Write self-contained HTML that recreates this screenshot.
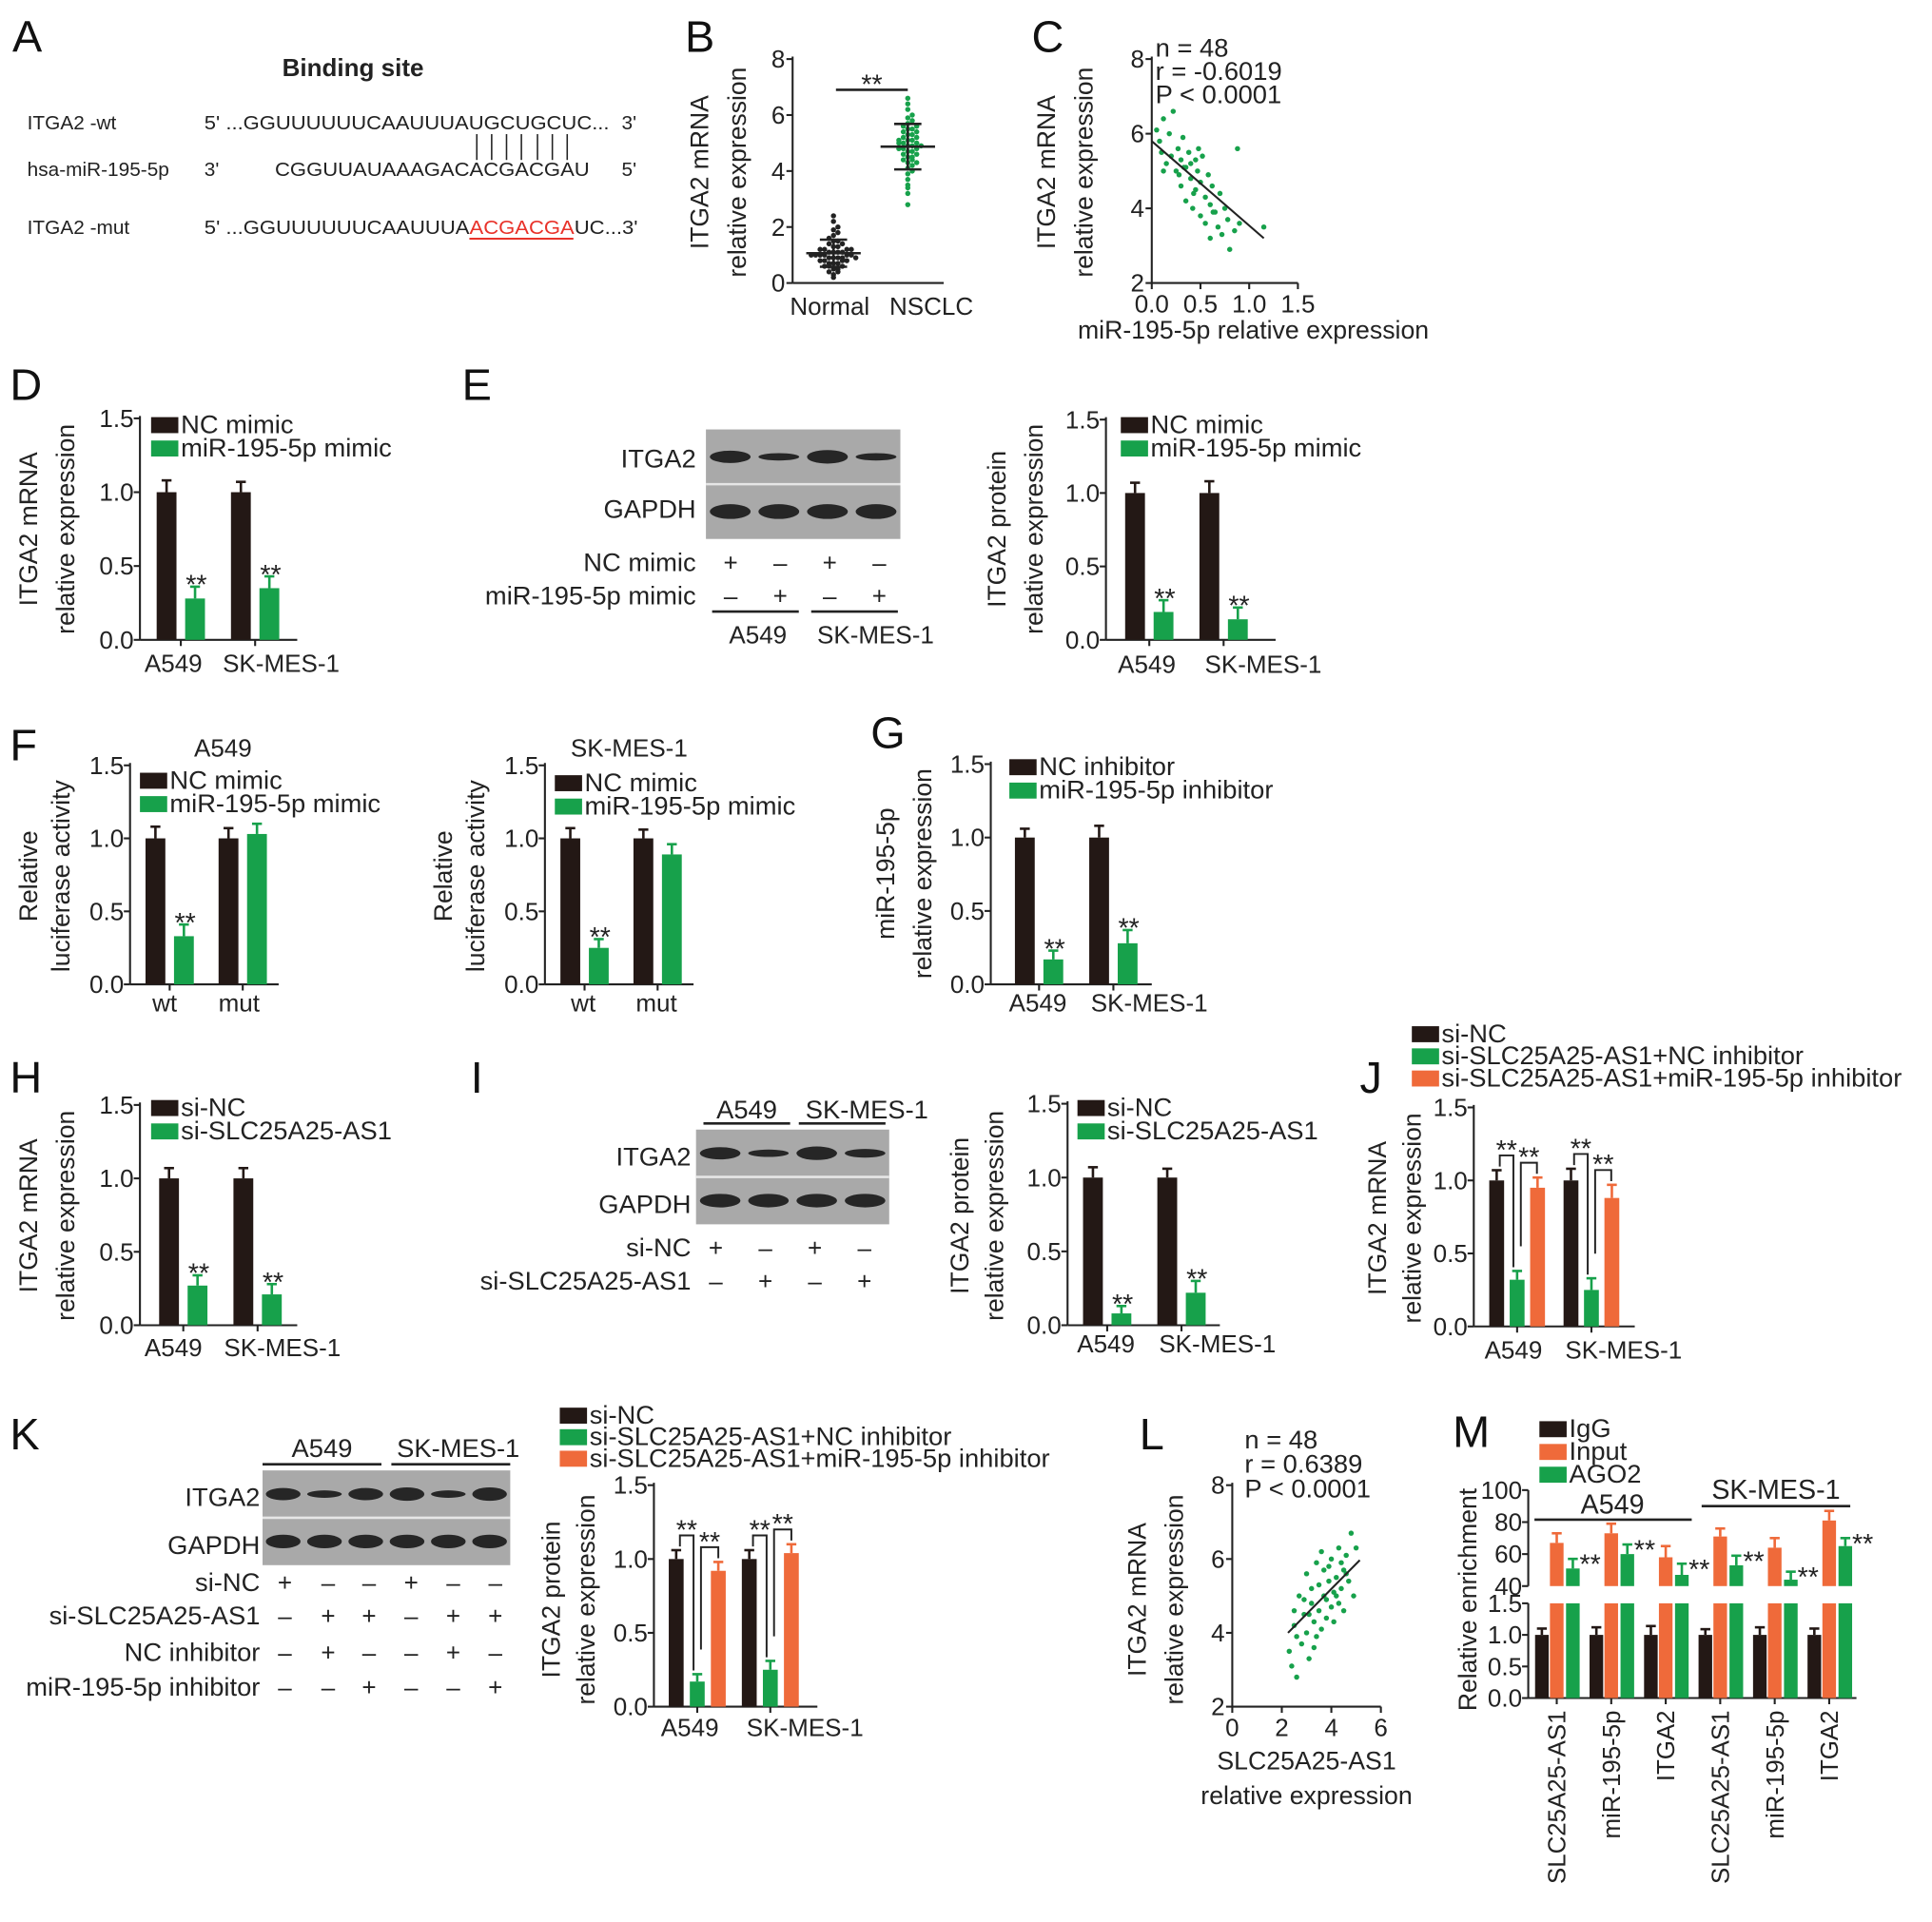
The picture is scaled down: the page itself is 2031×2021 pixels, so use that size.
<!DOCTYPE html>
<html><head><meta charset="utf-8"><title>ITGA2 figure</title>
<style>
html,body{margin:0;padding:0;background:#fff;}
svg{display:block;font-family:"Liberation Sans",Arial,sans-serif;}
</style></head>
<body>
<svg id="fig" xmlns="http://www.w3.org/2000/svg" width="2031" height="2021" viewBox="0 0 1560 1562" preserveAspectRatio="none"></svg>
<script>
// ---------- data ----------
const bNormal = [0.3,0.4,0.5,0.5,0.6,0.6,0.7,0.7,0.7,0.8,0.8,0.8,0.8,0.9,0.9,0.9,0.9,1.0,1.0,1.0,1.0,1.0,1.1,1.1,1.1,1.1,1.2,1.2,1.2,1.3,1.3,1.4,1.4,1.5,1.5,1.6,1.7,1.8,1.9,2.0,2.2,2.4,0.2,0.6,0.9,1.0,1.2,0.4];
const bNSCLC = [2.8,3.2,3.5,3.7,3.9,4.0,4.1,4.2,4.3,4.4,4.4,4.5,4.5,4.6,4.6,4.7,4.7,4.8,4.8,4.8,4.9,4.9,5.0,5.0,5.0,5.1,5.1,5.2,5.2,5.3,5.3,5.4,5.4,5.5,5.5,5.6,5.7,5.8,5.9,6.0,6.2,6.4,6.6,4.3,5.1,4.9,5.6,3.4];
const cX = [0.05,0.08,0.1,0.12,0.15,0.18,0.2,0.22,0.25,0.27,0.3,0.3,0.32,0.35,0.35,0.38,0.4,0.4,0.42,0.45,0.45,0.47,0.5,0.5,0.52,0.55,0.55,0.58,0.6,0.6,0.62,0.65,0.68,0.7,0.72,0.75,0.78,0.8,0.85,0.88,0.12,0.28,0.43,0.48,0.63,0.9,0.33,1.15];
const cY = [6.1,5.8,5.5,6.4,5.2,6.0,5.4,6.6,5.0,5.6,5.3,4.6,5.9,5.1,4.2,5.5,4.8,5.2,4.0,5.3,4.5,5.0,4.7,3.8,5.4,4.3,3.6,4.9,4.1,3.2,4.6,3.9,3.5,4.4,3.3,4.0,3.7,2.9,3.4,5.6,5.0,4.9,4.4,5.6,3.9,3.6,5.1,3.5];
const cFit = [[0,5.8],[1.15,3.2]];
const lX = [2.3,2.4,2.5,2.6,2.7,2.8,2.9,3.0,3.0,3.1,3.2,3.2,3.3,3.4,3.4,3.5,3.5,3.6,3.7,3.7,3.8,3.8,3.9,4.0,4.0,4.1,4.1,4.2,4.3,4.3,4.4,4.5,4.5,4.6,4.7,4.8,4.9,5.0,2.6,2.9,3.3,3.6,3.9,4.2,4.6,2.5,3.1,4.4];
const lY = [3.5,3.1,4.2,2.8,5.0,3.7,4.5,4.0,5.6,3.3,4.8,5.2,4.3,5.9,3.9,4.6,5.3,4.1,5.0,5.7,4.4,4.9,5.4,4.7,6.0,5.1,4.3,5.5,4.8,6.3,5.2,5.7,4.6,6.1,5.4,6.7,5.0,6.3,3.9,4.9,3.6,6.2,5.8,5.0,5.6,4.6,4.5,5.9];
const lFit = [[2.25,4.0],[5.15,5.97]];

const twoCats = ['A549','SK-MES-1'];
const lucCats = ['wt','mut'];
const barTicks = [0,0.5,1.0,1.5];
const barTickLabels = ['0.0','0.5','1.0','1.5'];

const dNC = [1.0,1.0], dMim = [0.28,0.35], dNCe=[0.08,0.07], dMime=[0.08,0.08];
const eNC = [1.0,1.0], eMim = [0.19,0.14], eNCe=[0.07,0.08], eMime=[0.08,0.08];
const fAnc = [1.0,1.0], fAmim = [0.33,1.03], fAnce=[0.08,0.07], fAmime=[0.08,0.07];
const fSnc = [1.0,1.0], fSmim = [0.25,0.89], fSnce=[0.07,0.06], fSmime=[0.06,0.07];
const gNC = [1.0,1.0], gInh = [0.17,0.28], gNCe=[0.06,0.08], gInhe=[0.06,0.09];
const hNC = [1.0,1.0], hSi = [0.27,0.21], hNCe=[0.07,0.07], hSie=[0.07,0.07];
const iNC = [1.0,1.0], iSi = [0.08,0.22], iNCe=[0.07,0.06], iSie=[0.05,0.08];
const jNC = [1.0,1.0], jSiNC = [0.32,0.25], jSiInh = [0.95,0.88], jNCe=[0.07,0.08], jSiNCe=[0.06,0.08], jSiInhe=[0.07,0.09];
const kNC = [1.0,1.0], kSiNC = [0.17,0.25], kSiInh = [0.92,1.04], kNCe=[0.06,0.06], kSiNCe=[0.05,0.06], kSiInhe=[0.06,0.06];
const mCats = ['SLC25A25-AS1','miR-195-5p','ITGA2','SLC25A25-AS1','miR-195-5p','ITGA2'];
const mIgG = [1.0,1.0,1.0,1.0,1.0,1.0];
const mIgGe = [0.1,0.12,0.14,0.09,0.12,0.1];
const mInput = [67,73,58,71,64,81];
const mInpute = [6,6,7,5,6,6];
const mAGO2 = [51,60,47,53,44,65];
const mAGO2e = [6,6,7,6,5,5];
const mUpperTicks = [40,60,80,100];
const mLowerTicks = [0,0.5,1.0,1.5];
const mLowerTickLabels = ['0.0','0.5','1.0','1.5'];

// ---------- helpers ----------
const NS='http://www.w3.org/2000/svg';
const svg=document.getElementById('fig');
const K='#231815', G='#17a14b', O='#ef6a3a';
const FT=20, FL=21, FA=20.5;
function mk(tag, attrs, name){
  const e=document.createElementNS(NS,tag);
  for(const k in attrs) e.setAttribute(k, attrs[k]);
  
  
  svg.appendChild(e);
  return e;
}
function txt(x,y,s,size,anchor,name,extra){
  const a={x:x,y:y,'font-size':size,'text-anchor':anchor||'start',fill:'#222'};
  if(extra) for(const k in extra) a[k]=extra[k];
  const t=mk('text',a,name);
  t.textContent=s;
  return t;
}
function line(x1,y1,x2,y2,name,color,w){
  return mk('line',{x1:x1,y1:y1,x2:x2,y2:y2,stroke:color||'#222','stroke-width':w||1.6},name);
}
function rotLabel(lines, xs, cy, name){
  lines.forEach((s,i)=>{
    txt(xs[i], cy, s, FA, 'middle', name, {transform:'rotate(-90 '+xs[i]+' '+cy+')'});
  });
}
function legend(x,y,items,colors,step,name){
  items.forEach((s,i)=>{
    mk('rect',{x:x,y:y+i*step-6,width:22,height:13,fill:colors[i]},name+'-swatch');
    txt(x+24,y+i*step+7,s,FL,'start',name+'-entry');
  });
}
function panelLetter(s,x,y){ txt(x,y,s,36,'start','panel-label-'+s.toLowerCase(),{fill:'#111'}); }

function barChart(c){
  const sy=v=>c.y0-(v/c.max)*(c.y0-c.yTop);
  line(c.ax,c.yTop-2,c.ax,c.y0,c.name+'-y-axis');
  line(c.ax,c.y0,c.xEnd,c.y0,c.name+'-x-axis');
  barTicks.forEach((v,i)=>{
    line(c.ax-5,sy(v),c.ax,sy(v),c.name+'-y-tick');
    txt(c.ax-5,sy(v)+7,barTickLabels[i],FT,'end',c.name+'-y-tick-label');
  });
  const n=c.series.length;
  c.centers.forEach((cx,g)=>{
    line(cx,c.y0,cx,c.y0+5,c.name+'-x-tick');
    txt(c.catX[g],c.catY,c.cats[g],FT,'middle',c.name+'-x-tick-label');
    c.series.forEach((arr,s)=>{
      const bx=cx+(s-(n-1)/2)*c.off;
      const v=arr[g], e=c.errs[s][g];
      mk('rect',{x:bx-c.bw/2,y:sy(v),width:c.bw,height:c.y0-sy(v),fill:c.colors[s]},c.name+'-bar');
      line(bx,sy(v),bx,sy(v+e),c.name+'-error-bar',c.colors[s],2);
      line(bx-4,sy(v+e),bx+4,sy(v+e),c.name+'-error-cap',c.colors[s],2);
      if(c.sig && c.sig[s] && c.sig[s][g]) txt(bx+1,sy(v+e)+6,'**',22,'middle',c.name+'-significance');
    });
  });
  rotLabel(c.ylab,c.ylabX,c.ylabY,c.name+'-y-axis-title');
  legend(c.legX,c.legY,c.legItems,c.colors,c.legStep||19,c.name+'-legend');
  return sy;
}
function bracket(x1,top1,x2,top2,level,name){
  mk('path',{d:'M'+x1+' '+top1+' L'+x1+' '+level+' L'+x2+' '+level+' L'+x2+' '+top2,fill:'none',stroke:'#222','stroke-width':1.5},name);
  txt((x1+x2)/2,level+3,'**',22,'middle',name+'-label');
}

// ---------- Panel A ----------
panelLetter('A',10,42);
txt(285,62,'Binding site',20,'middle','binding-site-title',{'font-weight':'bold'});
txt(22,105,'ITGA2 -wt',16,'start','wt-label');
txt(165,105,"5' ...GGUUUUUUCAAUUUAUGCUGCUC...",16,'start','wt-sequence',{textLength:327,lengthAdjust:'spacingAndGlyphs'});
txt(502,105,"3'",16,'start','wt-3prime');
txt(22,143,'hsa-miR-195-5p',16,'start','mirna-label');
txt(165,143,"3'",16,'start','mirna-3prime');
txt(222,143,'CGGUUAUAAAGACACGACGAU',16,'start','mirna-sequence',{textLength:254,lengthAdjust:'spacingAndGlyphs'});
txt(502,143,"5'",16,'start','mirna-5prime');
[385,397,409,421,434,446,458].forEach(x=>line(x,109,x,130,'base-pair-line','#222',1.2));
txt(22,190,'ITGA2 -mut',16,'start','mut-label');
(function(){
  const t=txt(165,190,'',16,'start','mut-sequence',{textLength:350,lengthAdjust:'spacingAndGlyphs'});
  const a=document.createElementNS(NS,'tspan'); a.textContent="5' ...GGUUUUUUCAAUUUA"; t.appendChild(a);
  const b=document.createElementNS(NS,'tspan'); b.textContent='ACGACGA'; b.setAttribute('fill','#e8322a'); t.appendChild(b);
  const c=document.createElementNS(NS,'tspan'); c.textContent="UC...3'"; t.appendChild(c);
})();
line(379,194,463,194,'mutation-underline','#e8322a',1.5);

// ---------- Panel B ----------
panelLetter('B',553,42);
(function(){
  const ax=640,y0=230,yT=48;
  const sy=v=>y0-v/8*(y0-yT);
  line(ax,yT-2,ax,y0,'b-y-axis'); line(ax,y0,762,y0,'b-x-axis');
  [0,2,4,6,8].forEach(v=>{line(ax-5,sy(v),ax,sy(v),'b-y-tick');txt(ax-6,sy(v)+7,String(v),FT,'end','b-y-tick-label');});
  rotLabel(['ITGA2 mRNA','relative expression'],[572,602],140,'b-y-axis-title');
  txt(670,256,'Normal',FT,'middle','b-x-label-normal');
  txt(752,256,'NSCLC',FT,'middle','b-x-label-nsclc');
  line(675,73,733,73,'b-significance-line','#222',2);
  txt(704,76,'**',22,'middle','b-significance');
  function swarm(vals,cx,color,name){
    const bins={};
    vals.forEach(v=>{
      const k=Math.round(v*5);
      bins[k]=(bins[k]||0)+1;
      const i=bins[k]-1;
      const off=(i%2?1:-1)*Math.ceil(i/2)*3.6;
      mk('circle',{cx:cx+off,cy:sy(v),r:2.1,fill:color},name);
    });
    const m=vals.reduce((a,b)=>a+b,0)/vals.length;
    const sd=Math.sqrt(vals.reduce((a,b)=>a+(b-m)*(b-m),0)/(vals.length-1));
    line(cx-22,sy(m),cx+22,sy(m),name+'-mean','#222',2);
    line(cx,sy(m-sd),cx,sy(m+sd),name+'-sd','#222',2);
    line(cx-11,sy(m-sd),cx+11,sy(m-sd),name+'-sd-cap','#222',2);
    line(cx-11,sy(m+sd),cx+11,sy(m+sd),name+'-sd-cap','#222',2);
  }
  swarm(bNormal,673,'#222','b-normal-point');
  swarm(bNSCLC,733,G,'b-nsclc-point');
})();

// ---------- Panel C ----------
panelLetter('C',833,42);
(function(){
  const ax=930,y0=230,yT=48,xR=1048;
  const sy=v=>y0-(v-2)/6*(y0-yT);
  const sx=v=>ax+v/1.5*(xR-ax);
  line(ax,yT-2,ax,y0,'c-y-axis'); line(ax,y0,xR,y0,'c-x-axis');
  [2,4,6,8].forEach(v=>{line(ax-5,sy(v),ax,sy(v),'c-y-tick');txt(ax-6,sy(v)+7,String(v),FT,'end','c-y-tick-label');});
  [0,0.5,1.0,1.5].forEach(v=>{line(sx(v),y0,sx(v),y0+5,'c-x-tick');txt(sx(v),y0+24,v.toFixed(1),FT,'middle','c-x-tick-label');});
  rotLabel(['ITGA2 mRNA','relative expression'],[852,882],140,'c-y-axis-title');
  txt(1012,275,'miR-195-5p relative expression',FA,'middle','c-x-axis-title');
  txt(933,46,'n = 48',FL,'start','c-stat-n');
  txt(933,65,'r = -0.6019',FL,'start','c-stat-r');
  txt(933,84,'P < 0.0001',FL,'start','c-stat-p');
  cX.forEach((x,i)=>mk('circle',{cx:sx(x),cy:sy(cY[i]),r:2.1,fill:G},'c-point'));
  line(sx(cFit[0][0]),sy(cFit[0][1]),sx(cFit[1][0]),sy(cFit[1][1]),'c-regression-line','#222',1.6);
})();

// ---------- Panel D ----------
panelLetter('D',8,325);
barChart({name:'d',ax:113,y0:520,yTop:340,max:1.5,xEnd:240,centers:[146,206],bw:16,off:23,
  series:[dNC,dMim],errs:[dNCe,dMime],colors:[K,G],sig:[null,[1,1]],cats:twoCats,catX:[140,227],catY:546,
  ylab:['ITGA2 mRNA','relative expression'],ylabX:[30,60],ylabY:430,legX:122,legY:345,legItems:['NC mimic','miR-195-5p mimic']});

// ---------- Panel E ----------
panelLetter('E',373,325);
function blot(x,y,w,h,rows,bands,name){
  mk('rect',{x:x,y:y,width:w,height:h,fill:'#a9a9a9'},name+'-background');
  const rh=h/rows.length;
  rows.forEach((r,ri)=>{
    if(ri>0) line(x,y+ri*rh,x+w,y+ri*rh,name+'-divider','#e6e6e6',2);
    bands[ri].forEach((b,bi)=>{
      const lw=w/bands[ri].length;
      mk('ellipse',{cx:x+lw*(bi+0.5),cy:y+rh*(ri+0.5),rx:lw*0.42,ry:b,fill:'#262626'},name+'-band');
    });
  });
}
blot(570,349,157,89,['ITGA2','GAPDH'],[[5,3,5.5,3],[6,6,6,6]],'e-blot');
txt(562,380,'ITGA2',21,'end','e-blot-label-itga2');
txt(562,421,'GAPDH',21,'end','e-blot-label-gapdh');
txt(562,464,'NC mimic',21,'end','e-row-nc-mimic');
txt(562,491,'miR-195-5p mimic',21,'end','e-row-mir-mimic');
['+','–','+','–'].forEach((s,i)=>txt(590+i*40,464,s,20,'middle','e-sign'));
['–','+','–','+'].forEach((s,i)=>txt(590+i*40,491,s,20,'middle','e-sign'));
line(575,497,645,497,'e-group-line','#222',2); line(655,497,725,497,'e-group-line','#222',2);
txt(612,523,'A549',FT,'middle','e-group-a549'); txt(707,523,'SK-MES-1',FT,'middle','e-group-skmes1');
barChart({name:'e',ax:893,y0:520,yTop:341,max:1.5,xEnd:1030,centers:[928,988],bw:16,off:23,
  series:[eNC,eMim],errs:[eNCe,eMime],colors:[K,G],sig:[null,[1,1]],cats:twoCats,catX:[926,1020],catY:547,
  ylab:['ITGA2 protein','relative expression'],ylabX:[812,842],ylabY:430,legX:905,legY:345,legItems:['NC mimic','miR-195-5p mimic']});

// ---------- Panel F ----------
panelLetter('F',8,618);
txt(180,615,'A549',FT,'middle','f-title-a549');
barChart({name:'f-a549',ax:105,y0:800,yTop:622,max:1.5,xEnd:225,centers:[137,196],bw:16,off:23,
  series:[fAnc,fAmim],errs:[fAnce,fAmime],colors:[K,G],sig:[null,[1,0]],cats:lucCats,catX:[133,193],catY:822,
  ylab:['Relative','luciferase activity'],ylabX:[30,56],ylabY:712,legX:113,legY:634,legItems:['NC mimic','miR-195-5p mimic']});
txt(508,615,'SK-MES-1',FT,'middle','f-title-skmes1');
barChart({name:'f-skmes1',ax:440,y0:800,yTop:622,max:1.5,xEnd:560,centers:[472,531],bw:16,off:23,
  series:[fSnc,fSmim],errs:[fSnce,fSmime],colors:[K,G],sig:[null,[1,0]],cats:lucCats,catX:[471,530],catY:822,
  ylab:['Relative','luciferase activity'],ylabX:[365,391],ylabY:712,legX:448,legY:636,legItems:['NC mimic','miR-195-5p mimic']});

// ---------- Panel G ----------
panelLetter('G',703,608);
barChart({name:'g',ax:800,y0:800,yTop:621,max:1.5,xEnd:930,centers:[839,899],bw:16,off:23,
  series:[gNC,gInh],errs:[gNCe,gInhe],colors:[K,G],sig:[null,[1,1]],cats:twoCats,catX:[838,928],catY:822,
  ylab:['miR-195-5p','relative expression'],ylabX:[722,752],ylabY:710,legX:815,legY:623,legItems:['NC inhibitor','miR-195-5p inhibitor']});

// ---------- Panel H ----------
panelLetter('H',8,888);
barChart({name:'h',ax:113,y0:1077,yTop:898,max:1.5,xEnd:240,centers:[148,208],bw:16,off:23,
  series:[hNC,hSi],errs:[hNCe,hSie],colors:[K,G],sig:[null,[1,1]],cats:twoCats,catX:[140,228],catY:1102,
  ylab:['ITGA2 mRNA','relative expression'],ylabX:[30,60],ylabY:988,legX:122,legY:900,legItems:['si-NC','si-SLC25A25-AS1']});

// ---------- Panel I ----------
panelLetter('I',380,888);
txt(603,909,'A549',21,'middle','i-group-a549'); txt(700,909,'SK-MES-1',21,'middle','i-group-skmes1');
line(568,913,638,913,'i-group-line','#222',2); line(645,913,715,913,'i-group-line','#222',2);
blot(562,918,156,77,['ITGA2','GAPDH'],[[5,3,5.5,3.5],[5.5,5.5,5.5,5.5]],'i-blot');
txt(558,947,'ITGA2',21,'end','i-blot-label-itga2');
txt(558,986,'GAPDH',21,'end','i-blot-label-gapdh');
txt(558,1021,'si-NC',21,'end','i-row-sinc');
txt(558,1048,'si-SLC25A25-AS1',21,'end','i-row-sislc');
['+','–','+','–'].forEach((s,i)=>txt(578+i*40,1021,s,20,'middle','i-sign'));
['–','+','–','+'].forEach((s,i)=>txt(578+i*40,1048,s,20,'middle','i-sign'));
barChart({name:'i',ax:862,y0:1077,yTop:897,max:1.5,xEnd:985,centers:[894,954],bw:16,off:23,
  series:[iNC,iSi],errs:[iNCe,iSie],colors:[K,G],sig:[null,[1,1]],cats:twoCats,catX:[893,983],catY:1099,
  ylab:['ITGA2 protein','relative expression'],ylabX:[782,810],ylabY:988,legX:870,legY:900,legItems:['si-NC','si-SLC25A25-AS1']});

// ---------- Panel J ----------
panelLetter('J',1098,888);
(function(){
  const sy=barChart({name:'j',ax:1190,y0:1078,yTop:900,max:1.5,xEnd:1320,centers:[1225,1285],bw:12,off:16.5,
    series:[jNC,jSiNC,jSiInh],errs:[jNCe,jSiNCe,jSiInhe],colors:[K,G,O],sig:null,cats:twoCats,catX:[1222,1311],catY:1104,
    ylab:['ITGA2 mRNA','relative expression'],ylabX:[1119,1147],ylabY:990,legX:1140,legY:840,legStep:18,
    legItems:['si-NC','si-SLC25A25-AS1+NC inhibitor','si-SLC25A25-AS1+miR-195-5p inhibitor']});
  [0,1].forEach(g=>{
    const cx=[1225,1285][g];
    bracket(cx-14,sy(jNC[g]+jNCe[g])-3,cx-3,sy(jSiNC[g]+jSiNCe[g])-3,sy(jNC[g]+jNCe[g])-12,'j-bracket-1');
    bracket(cx+3,sy(jSiNC[g]+jSiNCe[g])-20,cx+16,sy(jSiInh[g]+jSiInhe[g])-3,sy(jSiInh[g]+jSiInhe[g])-12,'j-bracket-2');
  });
})();

// ---------- Panel K ----------
panelLetter('K',8,1178);
txt(260,1184,'A549',21,'middle','k-group-a549'); txt(370,1184,'SK-MES-1',21,'middle','k-group-skmes1');
line(212,1190,308,1190,'k-group-line','#222',2); line(316,1190,412,1190,'k-group-line','#222',2);
blot(212,1195,200,77,['ITGA2','GAPDH'],[[5,3,5,5.5,3,5.5],[5.5,5.5,5.5,5.5,5.5,5.5]],'k-blot');
txt(210,1224,'ITGA2',21,'end','k-blot-label-itga2');
txt(210,1263,'GAPDH',21,'end','k-blot-label-gapdh');
(function(){
  const rows=['si-NC','si-SLC25A25-AS1','NC inhibitor','miR-195-5p inhibitor'];
  const signs=[['+','–','–','+','–','–'],['–','+','+','–','+','+'],['–','+','–','–','+','–'],['–','–','+','–','–','+']];
  const ys=[1293,1320,1350,1378];
  const xs=[230,265,298,332,366,400];
  rows.forEach((r,i)=>{
    txt(210,ys[i],r,21,'end','k-row-label');
    signs[i].forEach((s,j)=>txt(xs[j],ys[i],s,20,'middle','k-sign'));
  });
})();
(function(){
  const sy=barChart({name:'k',ax:528,y0:1387,yTop:1207,max:1.5,xEnd:660,centers:[563,622],bw:12,off:17,
    series:[kNC,kSiNC,kSiInh],errs:[kNCe,kSiNCe,kSiInhe],colors:[K,G,O],sig:null,cats:twoCats,catX:[557,650],catY:1411,
    ylab:['ITGA2 protein','relative expression'],ylabX:[452,480],ylabY:1300,legX:452,legY:1150,legStep:17.5,
    legItems:['si-NC','si-SLC25A25-AS1+NC inhibitor','si-SLC25A25-AS1+miR-195-5p inhibitor']});
  [0,1].forEach(g=>{
    const cx=[563,622][g];
    bracket(cx-14,sy(kNC[g]+kNCe[g])-3,cx-3,sy(kSiNC[g]+kSiNCe[g])-3,sy(kNC[g]+kNCe[g])-12,'k-bracket-1');
    bracket(cx+3,sy(kSiNC[g]+kSiNCe[g])-20,cx+17,sy(kSiInh[g]+kSiInhe[g])-3,sy(kSiInh[g]+kSiInhe[g])-12,'k-bracket-2');
  });
})();

// ---------- Panel L ----------
panelLetter('L',920,1178);
(function(){
  const ax=995,y0=1387,yT=1207,xR=1115;
  const sy=v=>y0-(v-2)/6*(y0-yT);
  const sx=v=>ax+v/6*(xR-ax);
  line(ax,yT-2,ax,y0,'l-y-axis'); line(ax,y0,xR,y0,'l-x-axis');
  [2,4,6,8].forEach(v=>{line(ax-5,sy(v),ax,sy(v),'l-y-tick');txt(ax-6,sy(v)+7,String(v),FT,'end','l-y-tick-label');});
  [0,2,4,6].forEach(v=>{line(sx(v),y0,sx(v),y0+5,'l-x-tick');txt(sx(v),y0+24,String(v),FT,'middle','l-x-tick-label');});
  rotLabel(['ITGA2 mRNA','relative expression'],[925,955],1300,'l-y-axis-title');
  txt(1055,1438,'SLC25A25-AS1',FA,'middle','l-x-axis-title');
  txt(1055,1466,'relative expression',FA,'middle','l-x-axis-title');
  txt(1005,1177,'n = 48',FL,'start','l-stat-n');
  txt(1005,1197,'r = 0.6389',FL,'start','l-stat-r');
  txt(1005,1217,'P < 0.0001',FL,'start','l-stat-p');
  lX.forEach((x,i)=>mk('circle',{cx:sx(x),cy:sy(lY[i]),r:2.1,fill:G},'l-point'));
  line(sx(lFit[0][0]),sy(lFit[0][1]),sx(lFit[1][0]),sy(lFit[1][1]),'l-regression-line','#222',1.6);
})();

// ---------- Panel M ----------
panelLetter('M',1173,1176);
(function(){
  const ax=1234, y0=1380, yL15=1303, yU40=1289, yU100=1211, xEnd=1499;
  const syL=v=>y0-v/1.5*(y0-yL15);
  const syU=v=>yU40-(v-40)/60*(yU40-yU100);
  line(ax,yL15,ax,y0,'m-y-axis-lower'); line(ax,yU100,ax,yU40,'m-y-axis-upper');
  line(ax,y0,xEnd,y0,'m-x-axis');
  mLowerTicks.forEach((v,i)=>{line(ax-5,syL(v),ax,syL(v),'m-y-tick');txt(ax-5,syL(v)+7,mLowerTickLabels[i],FT,'end','m-y-tick-label');});
  mUpperTicks.forEach(v=>{line(ax-5,syU(v),ax,syU(v),'m-y-tick');txt(ax-5,syU(v)+7,String(v),FT,'end','m-y-tick-label');});
  rotLabel(['Relative enrichment'],[1192],1300,'m-y-axis-title');
  legend(1243,1161,['IgG','Input','AGO2'],[K,O,G],18.5,'m-legend');
  txt(1302,1230,'A549',22,'middle','m-group-a549'); line(1239,1235,1366,1235,'m-group-line','#222',2);
  txt(1434,1218,'SK-MES-1',22,'middle','m-group-skmes1'); line(1374,1224,1494,1224,'m-group-line','#222',2);
  const bw=11;
  mCats.forEach((c,g)=>{
    const bx=1245+g*44;
    mk('rect',{x:bx-bw/2,y:syL(mIgG[g]),width:bw,height:y0-syL(mIgG[g]),fill:K},'m-bar-igg');
    line(bx,syL(mIgG[g]),bx,syL(mIgG[g]+mIgGe[g]),'m-error-bar',K,2);
    line(bx-4,syL(mIgG[g]+mIgGe[g]),bx+4,syL(mIgG[g]+mIgGe[g]),'m-error-cap',K,2);
    [[mInput,mInpute,O,12,'m-bar-input'],[mAGO2,mAGO2e,G,25,'m-bar-ago2']].forEach(sr=>{
      const x=bx+sr[3], v=sr[0][g], e=sr[1][g];
      mk('rect',{x:x-bw/2,y:syL(1.5),width:bw,height:y0-syL(1.5),fill:sr[2]},sr[4]+'-lower');
      mk('rect',{x:x-bw/2,y:syU(v),width:bw,height:yU40-syU(v),fill:sr[2]},sr[4]+'-upper');
      line(x,syU(v),x,syU(v+e),'m-error-bar',sr[2],2);
      line(x-4,syU(v+e),x+4,syU(v+e),'m-error-cap',sr[2],2);
      if(sr[4]==='m-bar-ago2') txt(x+14,syU(v+e)+12,'**',22,'middle','m-significance');
    });
    const lx=bx+12;
    line(lx,y0,lx,y0+5,'m-x-tick');
    txt(lx+7,y0+10,c,FT,'end','m-x-tick-label',{transform:'rotate(-90 '+(lx+7)+' '+(y0+10)+')'});
  });
})();
</script>
</body></html>
